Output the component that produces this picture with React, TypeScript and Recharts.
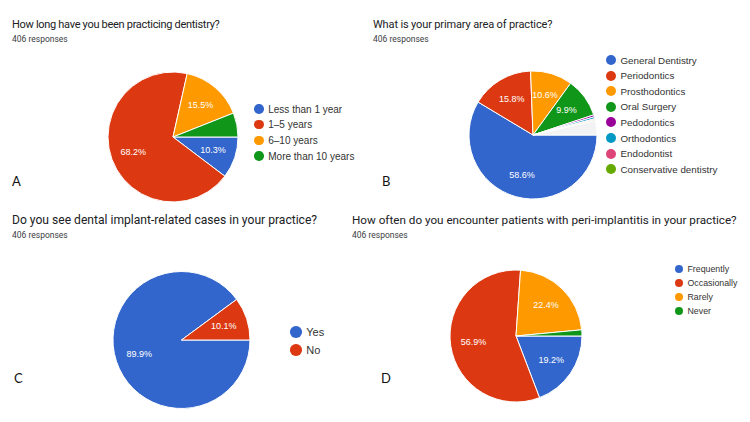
import { PieChart, Pie, Cell } from 'recharts'

// Survey answers, percent of 406 responses
const yearsNames = ['Less than 1 year', '1–5 years', '6–10 years', 'More than 10 years']
const yearsValues = [10.3, 68.2, 15.5, 6.0]

const areaNames = [
  'General Dentistry',
  'Periodontics',
  'Prosthodontics',
  'Oral Surgery',
  'Pedodontics',
  'Orthodontics',
  'Endodontist',
  'Conservative dentistry',
]
const areaValues = [58.6, 15.8, 10.6, 9.9, 0.5, 0.5, 0.25, 0.25]
// free-text "other" answers, grouped into one pale slice
const areaOtherValue = 3.6

const implantNames = ['Yes', 'No']
const implantValues = [89.9, 10.1]

const periNames = ['Frequently', 'Occasionally', 'Rarely', 'Never']
const periValues = [19.2, 56.9, 22.4, 1.5]

const COLORS = ['#3366cc', '#dc3912', '#ff9900', '#109618', '#990099', '#0099c6', '#dd4477', '#66aa00']
const OTHER_COLOR = '#f3f3f3'

const RADIAN = Math.PI / 180
const TITLE_FONT = 'Roboto, Arial, sans-serif'
const CHART_FONT = '"Liberation Sans", Arial, sans-serif'

const toRows = (names: string[], values: number[]) => names.map((name, i) => ({ name, value: values[i] }))

const yearsData = toRows(yearsNames, yearsValues)
const areaData = [...toRows(areaNames, areaValues), { name: 'Other', value: areaOtherValue }]
const implantData = toRows(implantNames, implantValues)
const periData = toRows(periNames, periValues)

function sliceLabel(fontSize: number) {
  return (props: any) => {
    const { cx, cy, midAngle, outerRadius, value } = props
    if (value < 9) return null
    const r = outerRadius * 0.65
    const x = cx + r * Math.cos(-midAngle * RADIAN)
    const y = cy + r * Math.sin(-midAngle * RADIAN)
    return (
      <text
        x={x}
        y={y}
        fill="#fff"
        textAnchor="middle"
        dominantBaseline="central"
        fontSize={fontSize}
        fontFamily={CHART_FONT}
      >
        {`${value}%`}
      </text>
    )
  }
}

interface LegendProps {
  names: string[]
  left: number
  top: number
  step: number
  dot: number
  fontSize: number
}

function Legend({ names, left, top, step, dot, fontSize }: LegendProps) {
  return (
    <>
      {names.map((name, i) => (
        <div
          key={name}
          style={{
            position: 'absolute',
            left: left - dot / 2,
            top: top + i * step - 8,
            height: 16,
            display: 'flex',
            alignItems: 'center',
            whiteSpace: 'nowrap',
            fontFamily: CHART_FONT,
            fontSize,
            color: '#333',
          }}
        >
          <span
            style={{
              width: dot,
              height: dot,
              borderRadius: '50%',
              background: COLORS[i],
              marginRight: 4.5,
              flexShrink: 0,
            }}
          />
          {name}
        </div>
      ))}
    </>
  )
}

interface HeadingProps {
  left: number
  top: number
  title: string
  size: number
  spacing?: number
}

function Heading({ left, top, title, size, spacing = 0 }: HeadingProps) {
  return (
    <>
      <div
        style={{
          position: 'absolute',
          left,
          top: top - size / 2 - 1,
          fontFamily: TITLE_FONT,
          fontSize: size,
          letterSpacing: spacing,
          lineHeight: 1,
          color: '#202124',
          whiteSpace: 'nowrap',
        }}
      >
        {title}
      </div>
      <div
        style={{
          position: 'absolute',
          left,
          top: top + 14.5 - 5,
          fontFamily: TITLE_FONT,
          fontSize: 8.5,
          lineHeight: 1,
          color: '#3c4043',
        }}
      >
        406 responses
      </div>
    </>
  )
}

function Letter({ left, top, text }: { left: number; top: number; text: string }) {
  return (
    <div
      style={{
        position: 'absolute',
        left,
        top: top - 8,
        fontFamily: 'Lato, "Open Sans", sans-serif',
        fontSize: 13,
        lineHeight: 1,
        color: '#111',
      }}
    >
      {text}
    </div>
  )
}

export default function App() {
  return (
    <div style={{ position: 'absolute', left: 0, top: 0, width: 750, height: 422, background: '#fff', overflow: 'hidden' }}>
      <PieChart width={750} height={422} style={{ position: 'absolute', left: 0, top: 0 }}>
        <Pie
          data={yearsData}
          dataKey="value"
          cx={168}
          cy={132}
          outerRadius={65}
          startAngle={0}
          endAngle={-360}
          stroke="#fff"
          strokeWidth={1}
          labelLine={false}
          label={sliceLabel(9)}
          isAnimationActive={false}
        >
          {yearsData.map((d, i) => (
            <Cell key={d.name} fill={COLORS[i]} />
          ))}
        </Pie>
        <Pie
          data={areaData}
          dataKey="value"
          cx={528}
          cy={130}
          outerRadius={64}
          startAngle={0}
          endAngle={-360}
          stroke="#fff"
          strokeWidth={1}
          labelLine={false}
          label={sliceLabel(9)}
          isAnimationActive={false}
        >
          {areaData.map((d, i) => (
            <Cell key={d.name} fill={i < areaNames.length ? COLORS[i] : OTHER_COLOR} />
          ))}
        </Pie>
        <Pie
          data={implantData}
          dataKey="value"
          cx={176.5}
          cy={335}
          outerRadius={68.5}
          startAngle={0}
          endAngle={-360}
          stroke="#fff"
          strokeWidth={1}
          labelLine={false}
          label={sliceLabel(9)}
          isAnimationActive={false}
        >
          {implantData.map((d, i) => (
            <Cell key={d.name} fill={COLORS[i]} />
          ))}
        </Pie>
        <Pie
          data={periData}
          dataKey="value"
          cx={511}
          cy={331}
          outerRadius={66}
          startAngle={0}
          endAngle={-360}
          stroke="#fff"
          strokeWidth={1}
          labelLine={false}
          label={sliceLabel(9)}
          isAnimationActive={false}
        >
          {periData.map((d, i) => (
            <Cell key={d.name} fill={COLORS[i]} />
          ))}
        </Pie>
      </PieChart>

      <Heading left={12} top={25} size={11} spacing={-0.3} title="How long have you been practicing dentistry?" />
      <Heading left={373} top={25} size={11} spacing={-0.14} title="What is your primary area of practice?" />
      <Heading left={12} top={221} size={12.1} title="Do you see dental implant-related cases in your practice?" />
      <Heading left={352} top={221.5} size={11.7} title="How often do you encounter patients with peri-implantitis in your practice?" />

      <Legend names={yearsNames} left={259} top={109} step={15.7} dot={9.5} fontSize={10} />
      <Legend names={areaNames} left={611} top={60} step={15.6} dot={10} fontSize={9.8} />
      <Legend names={implantNames} left={296} top={332} step={18} dot={11.5} fontSize={11} />
      <Legend names={periNames} left={679} top={269} step={14} dot={8} fontSize={8.8} />

      <Letter left={12} top={183} text="A" />
      <Letter left={382} top={183} text="B" />
      <Letter left={14} top={380} text="C" />
      <Letter left={381} top={380} text="D" />
    </div>
  )
}
